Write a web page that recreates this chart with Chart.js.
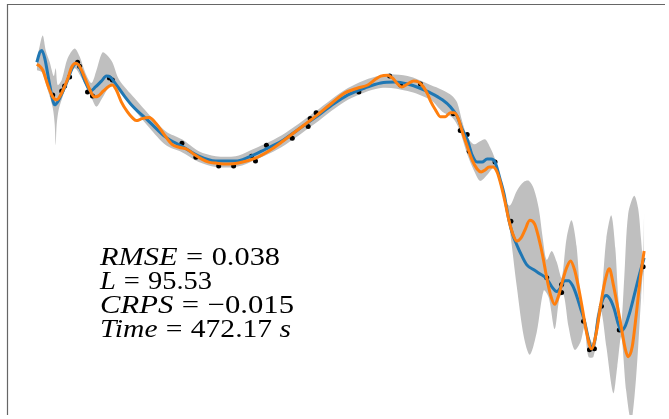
<!DOCTYPE html>
<html>
<head>
<meta charset="utf-8">
<script src="https://cdn.jsdelivr.net/npm/chart.js@4"></script>
<style>
  html, body { margin: 0; padding: 0; background: #fff; }
  #wrap { width: 669px; height: 419px; position: relative; }
</style>
</head>
<body>
<div id="wrap"><canvas id="chart" width="669" height="419"></canvas></div>
<script>
// observations
var obsX = [16, 25, 28, 33, 41, 43, 51, 56, 73, 76,
  146, 160, 183, 198, 216, 220, 231, 257, 273, 275,
  281, 324, 355, 366, 386, 419, 426, 433, 435, 461,
  477, 513, 528, 528, 550, 556, 561, 568, 586, 610];
var obsY = [1.55, 1.59, 1.64, 1.73, 1.88, 1.84, 1.58, 1.54, 1.72, 1.70,
  1.06, 0.92, 0.83, 0.83, 0.93, 0.88, 1.04, 1.11, 1.23, 1.31,
  1.37, 1.58, 1.74, 1.65, 1.66, 1.36, 1.19, 1.15, 0.98, 0.87,
  0.27, -0.30, -0.37, -0.45, -0.74, -1.03, -1.02, -0.59, -0.83, -0.19];

// predictive mean (blue)
var meanX = [0, 3, 5, 8, 13, 18, 21, 26, 31, 36,
  40, 43, 48, 54, 59, 65, 70, 74, 78, 88,
  96, 113, 130, 146, 163, 180, 200, 213, 230, 246,
  263, 280, 296, 313, 330, 346, 360, 373, 385, 396,
  408, 416, 423, 428, 433, 438, 443, 448, 453, 457,
  461, 466, 470, 475, 479, 483, 488, 493, 500, 506,
  513, 518, 523, 527, 531, 535, 539, 543, 547, 551,
  555, 558, 561, 565, 569, 573, 577, 581, 585, 588,
  592, 596, 601, 606, 611];
var meanY = [1.88, 1.98, 2.00, 1.92, 1.65, 1.45, 1.48, 1.58, 1.70, 1.83,
  1.87, 1.83, 1.70, 1.59, 1.63, 1.69, 1.74, 1.73, 1.68, 1.54,
  1.44, 1.28, 1.12, 1.03, 0.93, 0.88, 0.88, 0.92, 1.00, 1.08,
  1.20, 1.32, 1.44, 1.55, 1.62, 1.67, 1.68, 1.66, 1.62, 1.57,
  1.50, 1.43, 1.33, 1.20, 1.10, 0.94, 0.87, 0.87, 0.90, 0.90,
  0.87, 0.70, 0.55, 0.28, 0.13, 0.03, -0.08, -0.17, -0.22, -0.26,
  -0.31, -0.39, -0.44, -0.40, -0.33, -0.33, -0.38, -0.48, -0.61, -0.74,
  -0.92, -1.01, -0.95, -0.70, -0.53, -0.48, -0.52, -0.62, -0.77, -0.84,
  -0.79, -0.67, -0.48, -0.28, -0.10];

// sample (orange)
var sampleX = [0, 3, 6, 11, 16, 20, 25, 31, 35, 39,
  43, 48, 53, 58, 62, 67, 73, 76, 80, 85,
  91, 96, 100, 106, 113, 120, 128, 136, 143, 151,
  158, 166, 173, 180, 193, 203, 220, 233, 246, 263,
  280, 296, 310, 323, 333, 341, 346, 353, 358, 363,
  367, 373, 379, 384, 389, 393, 396, 401, 406, 411,
  416, 420, 424, 428, 433, 438, 443, 447, 451, 455,
  459, 463, 467, 471, 475, 479, 483, 487, 491, 496,
  501, 505, 509, 513, 517, 521, 525, 529, 533, 537,
  541, 545, 549, 553, 558, 563, 568, 572, 576, 580,
  584, 588, 592, 595, 599, 603, 607, 611];
var sampleY = [1.86, 1.84, 1.80, 1.65, 1.53, 1.50, 1.57, 1.71, 1.83, 1.87,
  1.84, 1.73, 1.61, 1.53, 1.54, 1.59, 1.64, 1.65, 1.60, 1.48,
  1.38, 1.32, 1.29, 1.31, 1.32, 1.26, 1.15, 1.05, 1.02, 1.00,
  0.95, 0.90, 0.87, 0.86, 0.85, 0.86, 0.91, 0.98, 1.07, 1.20,
  1.33, 1.46, 1.57, 1.62, 1.65, 1.71, 1.74, 1.75, 1.72, 1.66,
  1.63, 1.66, 1.69, 1.68, 1.63, 1.56, 1.49, 1.40, 1.33, 1.33,
  1.37, 1.37, 1.31, 1.18, 1.03, 0.89, 0.80, 0.77, 0.79, 0.82,
  0.82, 0.77, 0.64, 0.47, 0.28, 0.14, 0.07, 0.10, 0.18, 0.28,
  0.24, 0.10, -0.08, -0.30, -0.48, -0.57, -0.48, -0.33, -0.20, -0.13,
  -0.22, -0.40, -0.62, -0.85, -1.02, -0.85, -0.53, -0.32, -0.21, -0.37,
  -0.58, -0.80, -1.02, -1.10, -1.00, -0.68, -0.32, -0.03];

// confidence band
var upperX = [0, 3, 6, 9, 13, 17, 19, 21, 25, 31,
  38, 43, 49, 55, 60, 66, 71, 76, 83, 98,
  113, 130, 146, 163, 180, 200, 213, 246, 280, 313,
  346, 373, 396, 408, 418, 423, 428, 433, 440, 446,
  451, 456, 461, 466, 471, 476, 483, 490, 495, 500,
  505, 509, 513, 518, 523, 528, 533, 538, 543, 547,
  551, 555, 560, 563, 568, 573, 578, 582, 585, 588,
  591, 595, 601, 605, 608, 610, 611];
var upperY = [1.90, 2.05, 2.15, 2.00, 1.88, 1.74, 1.82, 1.65, 1.70, 1.92,
  2.02, 1.94, 1.77, 1.67, 1.80, 1.98, 1.95, 1.88, 1.70, 1.52,
  1.35, 1.18, 1.10, 0.98, 0.93, 0.93, 0.98, 1.14, 1.38, 1.62,
  1.75, 1.74, 1.65, 1.60, 1.54, 1.47, 1.28, 1.13, 1.05, 1.08,
  1.10, 1.02, 0.90, 0.70, 0.48, 0.43, 0.58, 0.67, 0.68, 0.60,
  0.40, 0.10, -0.12, -0.03, -0.14, -0.30, 0.10, 0.28, 0.02, -0.50,
  -0.70, -0.88, -0.97, -0.70, -0.47, 0.10, 0.33, 0.00, -0.50, -0.75,
  -0.30, 0.35, 0.53, 0.40, 0.08, -0.12, 0.38];
var lowerX = [0, 5, 11, 16, 18, 19, 20, 22, 25, 31,
  38, 45, 55, 60, 66, 75, 83, 98, 113, 130,
  146, 163, 180, 200, 213, 246, 280, 313, 346, 373,
  396, 408, 418, 425, 433, 440, 446, 453, 461, 468,
  475, 483, 490, 496, 503, 510, 515, 521, 526, 530,
  535, 541, 547, 551, 555, 560, 565, 568, 573, 580,
  584, 588, 593, 598, 603, 608, 610, 611];
var lowerY = [1.80, 1.78, 1.60, 1.42, 1.25, 1.04, 1.25, 1.40, 1.50, 1.68,
  1.82, 1.72, 1.52, 1.43, 1.52, 1.65, 1.58, 1.40, 1.22, 1.04,
  0.97, 0.87, 0.82, 0.82, 0.86, 1.02, 1.26, 1.50, 1.62, 1.59,
  1.50, 1.38, 1.32, 1.20, 0.95, 0.78, 0.68, 0.74, 0.82, 0.60,
  0.24, -0.40, -0.90, -1.08, -0.85, -0.43, -0.50, -0.82, -0.50, -0.47,
  -0.80, -1.03, -0.95, -0.80, -1.10, -1.10, -0.80, -0.65, -1.00, -1.47,
  -1.20, -0.90, -1.45, -1.75, -1.30, -0.50, -0.24, -0.60];

// metrics text
var metricNames = ['RMSE', 'L', 'CRPS', 'Time'];
var metricValues = ['0.038', '95.53', '\u22120.015', '472.17'];
var metricUnits = ['', '', '', 's'];

function pts(xs, ys) {
  return xs.map(function(x, i) { return {x: x, y: ys[i]}; });
}

var framePlugin = {
  id: 'frame',
  afterDraw: function(chart) {
    var ctx = chart.ctx, a = chart.chartArea;
    ctx.save();
    ctx.strokeStyle = '#666';
    ctx.lineWidth = 1.2;
    ctx.beginPath();
    ctx.moveTo(a.left + 0.5, a.bottom);
    ctx.lineTo(a.left + 0.5, a.top + 0.5);
    ctx.lineTo(a.right, a.top + 0.5);
    ctx.stroke();
    ctx.restore();
  }
};

var textPlugin = {
  id: 'metrics',
  afterDraw: function(chart) {
    var ctx = chart.ctx;
    var size = 26;
    var it = 'italic ' + size + 'px "Liberation Serif", "DejaVu Serif", serif';
    var rm = size + 'px "Liberation Serif", "DejaVu Serif", serif';
    var widths = [180, 112, 194, 191];
    var gap = 0.28 * size;
    ctx.save();
    ctx.fillStyle = '#000';
    ctx.textBaseline = 'alphabetic';
    for (var i = 0; i < metricNames.length; i++) {
      var segs = [[metricNames[i], it, 0], ['=', rm, gap], [metricValues[i], rm, gap]];
      if (metricUnits[i]) segs.push([metricUnits[i], it, 0.25 * size]);
      var total = 0;
      segs.forEach(function(s) { ctx.font = s[1]; total += s[2] + ctx.measureText(s[0]).width; });
      var sx = widths[i] / total;
      ctx.save();
      ctx.translate(100, 265 + i * 24);
      ctx.scale(sx, 1);
      var x = 0;
      segs.forEach(function(s) {
        ctx.font = s[1];
        x += s[2];
        ctx.fillText(s[0], x, 0);
        x += ctx.measureText(s[0]).width;
      });
      ctx.restore();
    }
    ctx.restore();
  }
};

function draw() {
  new Chart('chart', {
    type: 'line',
    data: {
      datasets: [
        {
          data: pts(upperX, upperY),
          borderWidth: 0,
          pointRadius: 0,
          backgroundColor: '#bfbfbf',
          fill: '+1',
          tension: 0.3,
          order: 10
        },
        {
          data: pts(lowerX, lowerY),
          borderWidth: 0,
          pointRadius: 0,
          fill: false,
          tension: 0.3,
          order: 10
        },
        {
          type: 'scatter',
          data: pts(obsX, obsY),
          pointRadius: 2.5,
          pointBackgroundColor: '#000',
          pointBorderWidth: 0,
          order: 5
        },
        {
          data: pts(meanX, meanY),
          borderColor: '#1f77b4',
          borderWidth: 3,
          pointRadius: 0,
          fill: false,
          cubicInterpolationMode: 'monotone',
          order: 3
        },
        {
          data: pts(sampleX, sampleY),
          borderColor: '#ff7f0e',
          borderWidth: 3,
          pointRadius: 0,
          fill: false,
          cubicInterpolationMode: 'monotone',
          order: 2
        }
      ]
    },
    options: {
      responsive: false,
      animation: false,
      layout: { padding: { left: 7, top: 3, right: 0, bottom: 0 } },
      plugins: { legend: { display: false }, tooltip: { enabled: false } },
      scales: {
        x: { type: 'linear', min: -30, max: 632, display: false },
        y: { type: 'linear', min: -1.69, max: 2.47, display: false }
      }
    },
    plugins: [framePlugin, textPlugin]
  });
}

Promise.all([
  document.fonts.load('italic 26px "Liberation Serif"', 'RMSE'),
  document.fonts.load('26px "Liberation Serif"', '0.038')
]).then(draw, draw);
</script>
</body>
</html>
